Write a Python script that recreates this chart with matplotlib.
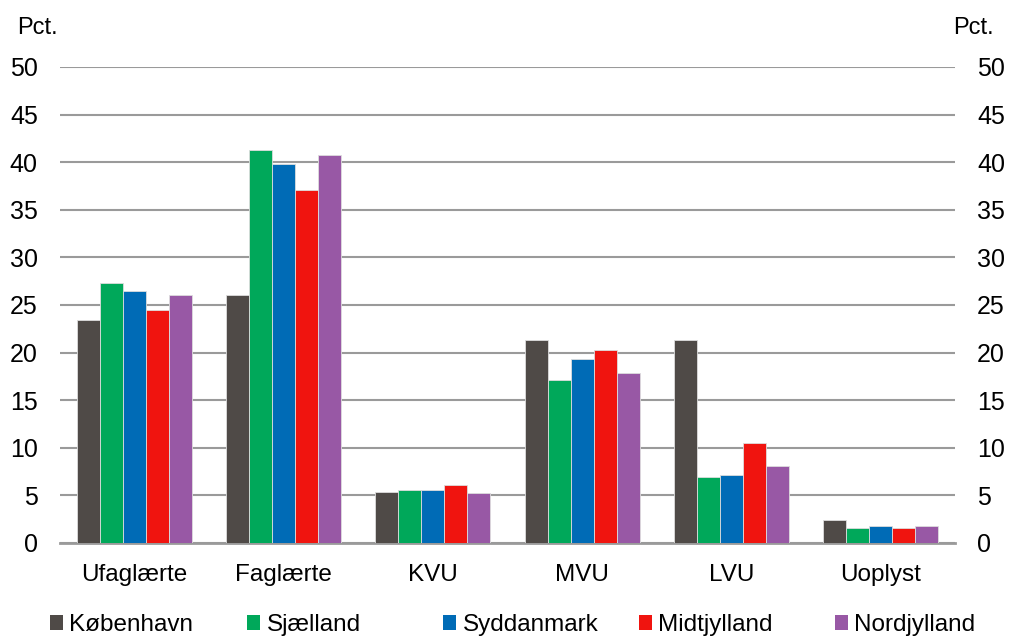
import matplotlib
matplotlib.use("Agg")
import matplotlib.pyplot as plt
import numpy as np
from matplotlib.patches import Patch

plt.rcParams['font.family'] = ['Liberation Sans', 'DejaVu Sans']

categories = ["Ufaglærte", "Faglærte", "KVU", "MVU", "LVU", "Uoplyst"]
series_names = ["København", "Sjælland", "Syddanmark", "Midtjylland", "Nordjylland"]
kobenhavn = [23.4, 26.1, 5.4, 21.3, 21.3, 2.4]
sjaelland = [27.3, 41.3, 5.6, 17.1, 6.9, 1.6]
syddanmark = [26.5, 39.8, 5.6, 19.3, 7.1, 1.8]
midtjylland = [24.5, 37.1, 6.1, 20.3, 10.5, 1.6]
nordjylland = [26.1, 40.8, 5.3, 17.9, 8.1, 1.8]
colors = ["#4F4A47", "#00A85A", "#006BB6", "#F0140F", "#9858A5"]
yticks = [0, 5, 10, 15, 20, 25, 30, 35, 40, 45, 50]

fig = plt.figure(figsize=(10.1, 6.37), dpi=100)
ax = fig.add_axes([60/1010, 94/637, 895/1010, 476/637])

data = [kobenhavn, sjaelland, syddanmark, midtjylland, nordjylland]
x = np.arange(len(categories))
w = 0.77 / 5
for i, (vals, c) in enumerate(zip(data, colors)):
    ax.bar(x + (i - 2) * w, vals, width=w, color=c, edgecolor='#DDDDDD', linewidth=0.6, zorder=3)

ax.set_xlim(-0.5, len(categories) - 0.5)
ax.set_ylim(0, 50)
ax.set_yticks(yticks)
ax.yaxis.grid(True, color='#9A9A9A', linewidth=1.5, zorder=0)
ax.set_axisbelow(True)
for s in ['top', 'right', 'left']:
    ax.spines[s].set_visible(False)
ax.spines['bottom'].set_color('#9A9A9A')
ax.spines['bottom'].set_linewidth(2)
ax.tick_params(axis='y', length=0, labelsize=18, pad=16, labelright=True)
ax.tick_params(axis='x', length=0, labelsize=17.5, pad=15)
ax.set_xticks(x)
ax.set_xticklabels(categories)

fig.text(17/1010, 1 - 28/637, "Pct.", fontsize=17, va='center', ha='left')
fig.text(994/1010, 1 - 28/637, "Pct.", fontsize=17, va='center', ha='right')

xs = [50, 247, 443, 639, 835]
for name, c, xp in zip(series_names, colors, xs):
    fig.legend(handles=[Patch(facecolor=c, edgecolor='none')], labels=[name],
               loc='center left', bbox_to_anchor=(xp/1010, 1 - 625/637), frameon=False,
               fontsize=17.5, handlelength=0.55, handleheight=0.55, handletextpad=0.25,
               borderpad=0, borderaxespad=0)

fig.savefig("out.png", dpi=100)
